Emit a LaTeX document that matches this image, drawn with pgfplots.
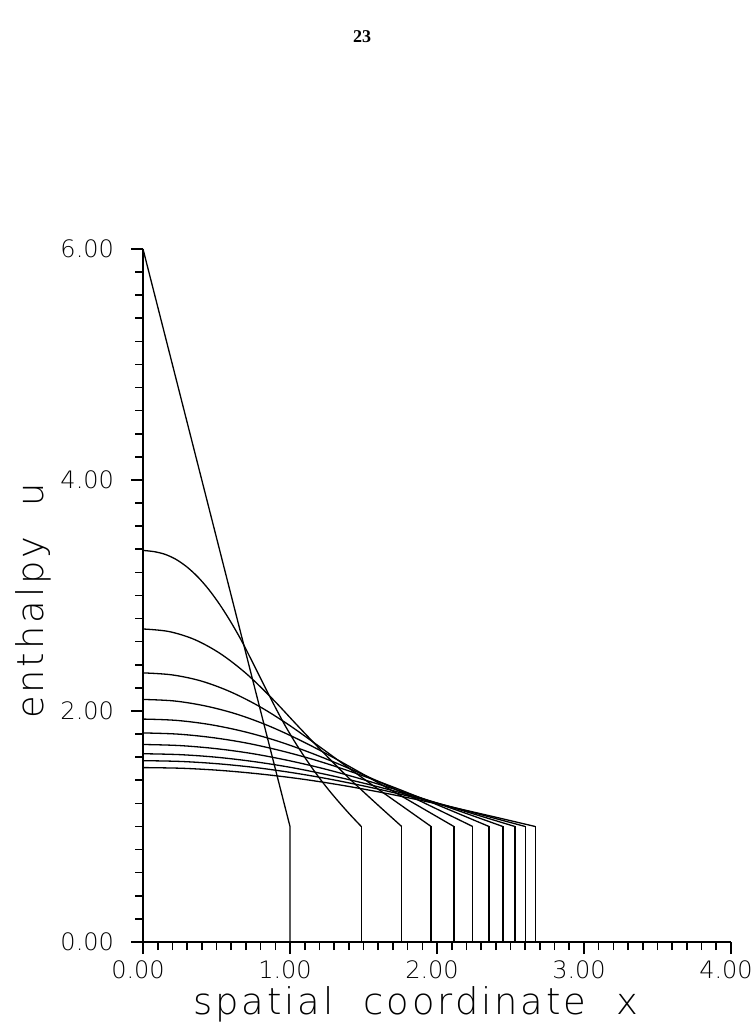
\documentclass[border=0pt]{standalone}
\usepackage{fontspec}
\usepackage{pgfplots}
\pgfplotsset{compat=1.18}
\IfFontExistsTF{DejaVu Sans ExtraLight}{\setmainfont{DejaVu Sans ExtraLight}}{\setmainfont{DejaVu Sans}}
\newfontfamily\pagefont{Liberation Serif}
\begin{document}
\begin{tikzpicture}
\path[use as bounding box] (0,0) rectangle (377pt,516pt);
\node[font=\pagefont\bfseries\fontsize{9}{10}\selectfont] at (181pt,497.5pt) {23};
\begin{axis}[
  at={(71.5pt,45pt)}, anchor=origin,
  scale only axis, width=294pt, height=346.5pt,
  xmin=0, xmax=4, ymin=0, ymax=6,
  axis lines=left, axis line style={-, line width=0.9pt},
  xtick={0,1,2,3,4}, ytick={0,2,4,6},
  minor x tick num=9, minor y tick num=9,
  tick align=outside,
  major tick length=6pt, minor tick length=4pt,
  tick style={black, line width=0.8pt},
  /pgf/number format/.cd, fixed, fixed zerofill, precision=2, assume math mode=true, /pgfplots/.cd,
  tick label style={font=\fontsize{12}{14}\selectfont},
  xticklabel style={anchor=north, xshift=-2.5pt},
  yticklabel style={anchor=east, xshift=-5pt},
  xlabel={\addfontfeatures{LetterSpace=8}spatial\hspace{15pt}coordinate\hspace{15pt}x},
  ylabel={\addfontfeatures{LetterSpace=8}enthalpy\hspace{15pt}u},
  xlabel style={font=\fontsize{18.4}{20}\selectfont, at={(axis description cs:0.464,-0.1053)}, anchor=base},
  ylabel style={font=\fontsize{18.4}{20}\selectfont, at={(axis description cs:-0.170,0.492)}, anchor=base},
  clip=false,
]
% initial profile
\addplot[black, line width=0.65pt] coordinates {(0,6) (1,1) (1,0)};
% C1
\addplot[black, line width=0.65pt, smooth, tension=0.5] coordinates {(0,3.390) (0.0743,3.380) (0.1485,3.357) (0.2228,3.314) (0.297,3.249) (0.3713,3.163) (0.4455,3.055) (0.5198,2.926) (0.594,2.778) (0.6683,2.613) (0.7425,2.429) (0.8168,2.240) (0.891,2.054) (0.9653,1.877) (1.0395,1.719) (1.1138,1.574) (1.188,1.440) (1.2623,1.318) (1.3365,1.206) (1.4108,1.100) (1.485,1.0)};
\addplot[black, line width=0.65pt] coordinates {(1.485,1.0) (1.485,0)};
% C2
\addplot[black, line width=0.65pt, smooth, tension=0.55] coordinates {(0,2.71) (0.176,2.688) (0.352,2.618) (0.528,2.495) (0.704,2.322) (0.88,2.106) (1.056,1.867) (1.232,1.633) (1.408,1.410) (1.584,1.202) (1.76,1.0)};
\addplot[black, line width=0.65pt] coordinates {(1.76,1.0) (1.76,0)};
% C3
\addplot[black, line width=0.65pt, smooth, tension=0.55] coordinates {(0,2.33) (0.196,2.313) (0.392,2.261) (0.588,2.170) (0.784,2.045) (0.98,1.890) (1.176,1.714) (1.372,1.532) (1.568,1.352) (1.764,1.176) (1.96,1.0)};
\addplot[black, line width=0.65pt] coordinates {(1.96,1.0) (1.96,0)};
% C4
\addplot[black, line width=0.65pt, smooth, tension=0.55] coordinates {(0,2.10) (0.2115,2.087) (0.423,2.044) (0.6345,1.974) (0.846,1.876) (1.0575,1.754) (1.269,1.615) (1.4805,1.465) (1.692,1.312) (1.9035,1.156) (2.115,1.0)};
\addplot[black, line width=0.65pt] coordinates {(2.115,1.0) (2.115,0)};
% C5
\addplot[black, line width=0.65pt, smooth, tension=0.55] coordinates {(0,1.93) (0.2243,1.919) (0.4486,1.884) (0.6729,1.826) (0.8972,1.747) (1.1215,1.647) (1.3458,1.533) (1.5701,1.408) (1.7944,1.276) (2.0187,1.139) (2.243,1.0)};
\addplot[black, line width=0.65pt] coordinates {(2.243,1.0) (2.243,0)};
% C6
\addplot[black, line width=0.65pt, smooth, tension=0.55] coordinates {(0,1.81) (0.2354,1.800) (0.4708,1.770) (0.7062,1.722) (0.9416,1.655) (1.177,1.573) (1.4124,1.476) (1.6478,1.368) (1.8832,1.250) (2.1186,1.126) (2.354,1.0)};
\addplot[black, line width=0.65pt] coordinates {(2.354,1.0) (2.354,0)};
% C7
\addplot[black, line width=0.65pt, smooth, tension=0.55] coordinates {(0,1.71) (0.2448,1.701) (0.4896,1.675) (0.7344,1.633) (0.9792,1.574) (1.224,1.502) (1.4688,1.417) (1.7136,1.322) (1.9584,1.219) (2.2032,1.111) (2.448,1.0)};
\addplot[black, line width=0.65pt] coordinates {(2.448,1.0) (2.448,0)};
% C8
\addplot[black, line width=0.65pt, smooth, tension=0.55] coordinates {(0,1.63) (0.253,1.622) (0.506,1.599) (0.759,1.561) (1.012,1.510) (1.265,1.445) (1.518,1.370) (1.771,1.286) (2.024,1.195) (2.277,1.098) (2.53,1.0)};
\addplot[black, line width=0.65pt] coordinates {(2.53,1.0) (2.53,0)};
% C9
\addplot[black, line width=0.65pt, smooth, tension=0.55] coordinates {(0,1.57) (0.26,1.563) (0.52,1.542) (0.78,1.508) (1.04,1.461) (1.30,1.403) (1.56,1.335) (1.82,1.259) (2.08,1.176) (2.34,1.089) (2.60,1.0)};
\addplot[black, line width=0.65pt] coordinates {(2.60,1.0) (2.60,0)};
% C10
\addplot[black, line width=0.65pt, smooth, tension=0.55] coordinates {(0,1.51) (0.2668,1.504) (0.5336,1.485) (0.8004,1.454) (1.0672,1.413) (1.334,1.361) (1.6008,1.300) (1.8676,1.232) (2.1344,1.158) (2.4012,1.080) (2.668,1.0)};
\addplot[black, line width=0.65pt] coordinates {(2.668,1.0) (2.668,0)};
\end{axis}
\end{tikzpicture}
\end{document}
